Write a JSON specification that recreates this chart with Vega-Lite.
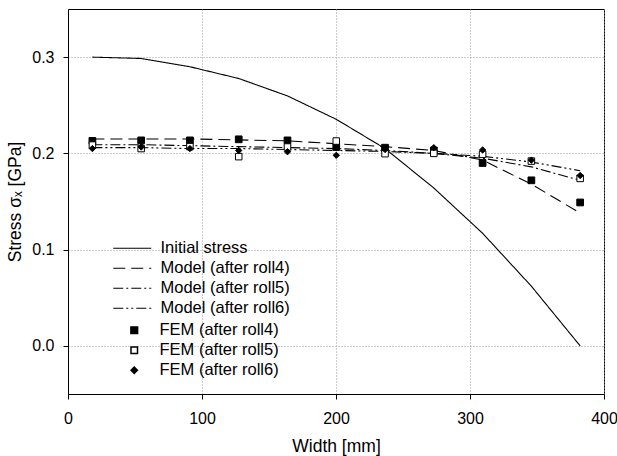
{
  "$schema": "https://vega.github.io/schema/vega-lite/v6.json",
  "width": 536,
  "height": 385,
  "autosize": "none",
  "padding": {"left": 68, "top": 9, "right": 13, "bottom": 62},
  "config": {
    "font": "Liberation Sans",
    "view": {"stroke": "black", "strokeWidth": 1},
    "axis": {
      "domainColor": "black",
      "tickColor": "black",
      "labelColor": "black",
      "titleColor": "black",
      "labelFont": "Liberation Sans",
      "titleFont": "Liberation Sans",
      "labelFontSize": 16,
      "titleFontSize": 17.5,
      "titleFontWeight": "normal",
      "gridColor": "#9a9a9a",
      "gridDash": [1, 2],
      "gridWidth": 1,
      "tickSize": 5
    },
    "legend": {
      "labelFont": "Liberation Sans",
      "labelFontSize": 16.5,
      "labelColor": "black",
      "padding": 0,
      "symbolOpacity": 1
    }
  },
  "datasets": {
    "lines": [
      {"x": 18.2, "y": 0.3, "line": "Initial stress"},
      {"x": 54.6, "y": 0.2986, "line": "Initial stress"},
      {"x": 91.0, "y": 0.290, "line": "Initial stress"},
      {"x": 127.4, "y": 0.2778, "line": "Initial stress"},
      {"x": 163.8, "y": 0.2597, "line": "Initial stress"},
      {"x": 200.2, "y": 0.2354, "line": "Initial stress"},
      {"x": 236.6, "y": 0.205, "line": "Initial stress"},
      {"x": 273.0, "y": 0.164, "line": "Initial stress"},
      {"x": 309.4, "y": 0.117, "line": "Initial stress"},
      {"x": 345.8, "y": 0.062, "line": "Initial stress"},
      {"x": 382.2, "y": 0.0, "line": "Initial stress"},
      {"x": 18.2, "y": 0.215, "line": "Model (after roll4)"},
      {"x": 54.6, "y": 0.215, "line": "Model (after roll4)"},
      {"x": 91.0, "y": 0.215, "line": "Model (after roll4)"},
      {"x": 127.4, "y": 0.214, "line": "Model (after roll4)"},
      {"x": 163.8, "y": 0.213, "line": "Model (after roll4)"},
      {"x": 200.2, "y": 0.210, "line": "Model (after roll4)"},
      {"x": 236.6, "y": 0.207, "line": "Model (after roll4)"},
      {"x": 273.0, "y": 0.203, "line": "Model (after roll4)"},
      {"x": 309.4, "y": 0.193, "line": "Model (after roll4)"},
      {"x": 345.8, "y": 0.168, "line": "Model (after roll4)"},
      {"x": 382.2, "y": 0.138, "line": "Model (after roll4)"},
      {"x": 18.2, "y": 0.209, "line": "Model (after roll5)"},
      {"x": 54.6, "y": 0.209, "line": "Model (after roll5)"},
      {"x": 91.0, "y": 0.208, "line": "Model (after roll5)"},
      {"x": 127.4, "y": 0.207, "line": "Model (after roll5)"},
      {"x": 163.8, "y": 0.206, "line": "Model (after roll5)"},
      {"x": 200.2, "y": 0.205, "line": "Model (after roll5)"},
      {"x": 236.6, "y": 0.203, "line": "Model (after roll5)"},
      {"x": 273.0, "y": 0.200, "line": "Model (after roll5)"},
      {"x": 309.4, "y": 0.195, "line": "Model (after roll5)"},
      {"x": 345.8, "y": 0.186, "line": "Model (after roll5)"},
      {"x": 382.2, "y": 0.172, "line": "Model (after roll5)"},
      {"x": 18.2, "y": 0.206, "line": "Model (after roll6)"},
      {"x": 54.6, "y": 0.206, "line": "Model (after roll6)"},
      {"x": 91.0, "y": 0.205, "line": "Model (after roll6)"},
      {"x": 127.4, "y": 0.205, "line": "Model (after roll6)"},
      {"x": 163.8, "y": 0.204, "line": "Model (after roll6)"},
      {"x": 200.2, "y": 0.203, "line": "Model (after roll6)"},
      {"x": 236.6, "y": 0.202, "line": "Model (after roll6)"},
      {"x": 273.0, "y": 0.200, "line": "Model (after roll6)"},
      {"x": 309.4, "y": 0.197, "line": "Model (after roll6)"},
      {"x": 345.8, "y": 0.191, "line": "Model (after roll6)"},
      {"x": 382.2, "y": 0.182, "line": "Model (after roll6)"}
    ],
    "fem": [
      {"x": 18.2, "y": 0.213, "fem": "FEM (after roll4)"},
      {"x": 54.6, "y": 0.2135, "fem": "FEM (after roll4)"},
      {"x": 91.0, "y": 0.2135, "fem": "FEM (after roll4)"},
      {"x": 127.4, "y": 0.2146, "fem": "FEM (after roll4)"},
      {"x": 163.8, "y": 0.2135, "fem": "FEM (after roll4)"},
      {"x": 200.2, "y": 0.2066, "fem": "FEM (after roll4)"},
      {"x": 236.6, "y": 0.2059, "fem": "FEM (after roll4)"},
      {"x": 273.0, "y": 0.203, "fem": "FEM (after roll4)"},
      {"x": 309.4, "y": 0.190, "fem": "FEM (after roll4)"},
      {"x": 345.8, "y": 0.172, "fem": "FEM (after roll4)"},
      {"x": 382.2, "y": 0.149, "fem": "FEM (after roll4)"},
      {"x": 18.2, "y": 0.2086, "fem": "FEM (after roll5)"},
      {"x": 54.6, "y": 0.205, "fem": "FEM (after roll5)"},
      {"x": 91.0, "y": 0.207, "fem": "FEM (after roll5)"},
      {"x": 127.4, "y": 0.1966, "fem": "FEM (after roll5)"},
      {"x": 163.8, "y": 0.2066, "fem": "FEM (after roll5)"},
      {"x": 200.2, "y": 0.2128, "fem": "FEM (after roll5)"},
      {"x": 236.6, "y": 0.1997, "fem": "FEM (after roll5)"},
      {"x": 273.0, "y": 0.200, "fem": "FEM (after roll5)"},
      {"x": 309.4, "y": 0.199, "fem": "FEM (after roll5)"},
      {"x": 345.8, "y": 0.192, "fem": "FEM (after roll5)"},
      {"x": 382.2, "y": 0.174, "fem": "FEM (after roll5)"},
      {"x": 18.2, "y": 0.205, "fem": "FEM (after roll6)"},
      {"x": 54.6, "y": 0.2066, "fem": "FEM (after roll6)"},
      {"x": 91.0, "y": 0.205, "fem": "FEM (after roll6)"},
      {"x": 127.4, "y": 0.203, "fem": "FEM (after roll6)"},
      {"x": 163.8, "y": 0.2017, "fem": "FEM (after roll6)"},
      {"x": 200.2, "y": 0.198, "fem": "FEM (after roll6)"},
      {"x": 236.6, "y": 0.204, "fem": "FEM (after roll6)"},
      {"x": 273.0, "y": 0.2059, "fem": "FEM (after roll6)"},
      {"x": 309.4, "y": 0.2035, "fem": "FEM (after roll6)"},
      {"x": 345.8, "y": 0.193, "fem": "FEM (after roll6)"},
      {"x": 382.2, "y": 0.177, "fem": "FEM (after roll6)"}
    ]
  },
  "encoding": {
    "x": {
      "field": "x", "type": "quantitative",
      "scale": {"domain": [0, 400], "nice": false, "zero": false},
      "axis": {"title": "Width [mm]", "values": [0, 100, 200, 300, 400], "labelPadding": 11, "titlePadding": 11, "labelFlush": false}
    },
    "y": {
      "field": "y", "type": "quantitative",
      "scale": {"domain": [-0.05, 0.35], "nice": false, "zero": false},
      "axis": {"title": "Stress σₓ [GPa]", "values": [0, 0.1, 0.2, 0.3], "format": ".1f", "labelPadding": 9, "titlePadding": 7, "labelFlush": false}
    }
  },
  "layer": [
    {
      "data": {"name": "lines"},
      "mark": {"type": "line", "color": "black", "strokeWidth": 1.1},
      "encoding": {
        "strokeDash": {
          "field": "line", "type": "nominal",
          "scale": {
            "domain": ["Initial stress", "Model (after roll4)", "Model (after roll5)", "Model (after roll6)"],
            "range": [[1, 0], [12, 6], [10, 3, 2, 3], [10, 3, 2, 3, 2, 3]]
          },
          "legend": {
            "title": null,
            "orient": "none",
            "legendX": 56,
            "legendY": 231,
            "symbolType": "M-3.8,0H3.8",
            "symbolSize": 100,
            "symbolStrokeColor": "black",
            "symbolStrokeWidth": 1.1,
            "labelOffset": 20,
            "rowPadding": 3
          }
        }
      }
    },
    {
      "data": {"name": "fem"},
      "mark": {"type": "point", "filled": false, "stroke": "black", "strokeWidth": 1, "opacity": 1},
      "encoding": {
        "shape": {
          "field": "fem", "type": "nominal",
          "scale": {"domain": ["FEM (after roll4)", "FEM (after roll5)", "FEM (after roll6)"], "range": ["square", "square", "diamond"]},
          "legend": {
            "title": null,
            "orient": "none",
            "legendX": 58,
            "legendY": 313,
            "labelOffset": 17,
            "rowPadding": 3,
            "encode": {"symbols": {"update": {"stroke": {"value": "black"}, "strokeWidth": {"value": 1}}}}
          }
        },
        "fill": {
          "field": "fem", "type": "nominal",
          "scale": {"domain": ["FEM (after roll4)", "FEM (after roll5)", "FEM (after roll6)"], "range": ["black", "white", "black"]},
          "legend": {
            "title": null,
            "orient": "none",
            "legendX": 58,
            "legendY": 313,
            "labelOffset": 17,
            "rowPadding": 3,
            "encode": {"symbols": {"update": {"stroke": {"value": "black"}, "strokeWidth": {"value": 1}}}}
          }
        },
        "size": {
          "field": "fem", "type": "nominal",
          "scale": {"domain": ["FEM (after roll4)", "FEM (after roll5)", "FEM (after roll6)"], "range": [45, 40, 95]},
          "legend": {
            "title": null,
            "orient": "none",
            "legendX": 58,
            "legendY": 313,
            "labelOffset": 17,
            "rowPadding": 3,
            "encode": {"symbols": {"update": {"stroke": {"value": "black"}, "strokeWidth": {"value": 1}}}}
          }
        }
      }
    }
  ]
}
